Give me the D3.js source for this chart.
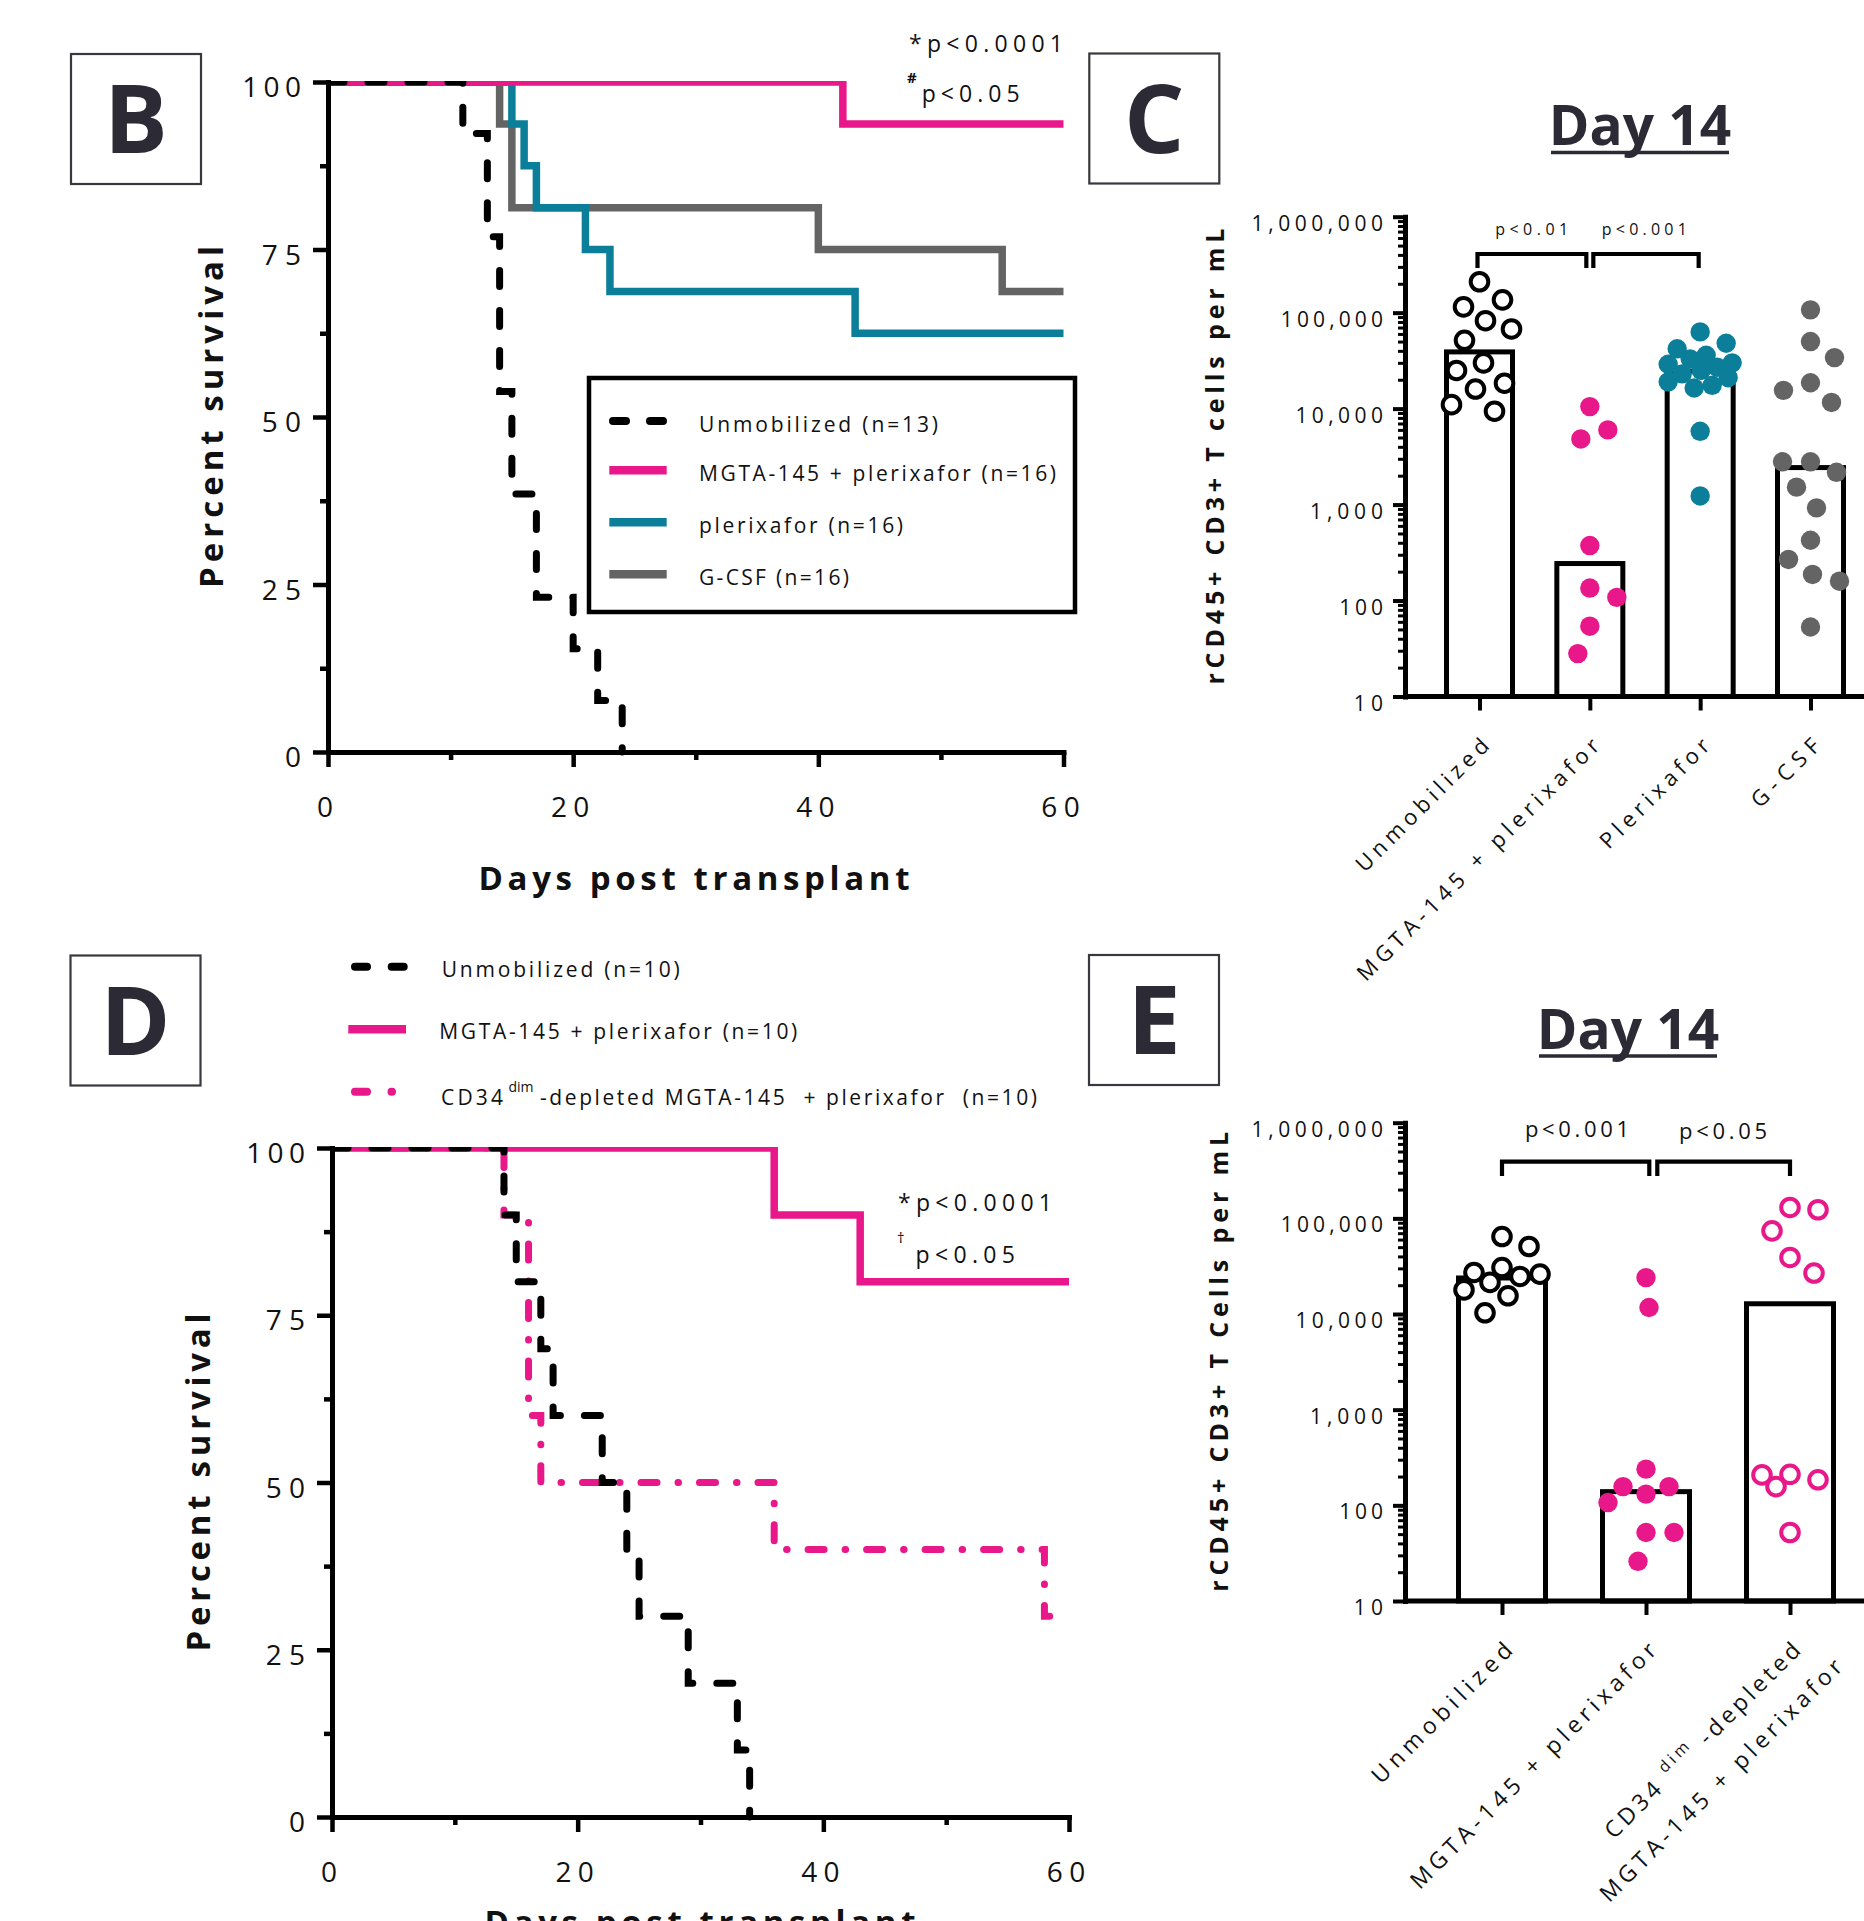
<!DOCTYPE html>
<html><head><meta charset="utf-8">
<script src="https://cdn.jsdelivr.net/npm/d3@7"></script>
<style>
html,body{margin:0;padding:0;background:#fff;}
svg{display:block;}
text{font-family:"Open Sans","Noto Sans",sans-serif;white-space:pre;}
</style></head><body>
<svg id="fig" width="1864" height="1921"></svg>
<script>
// ================= DATA =================
const dayTicks = [0, 20, 40, 60];
const survTicks = [0, 25, 50, 75, 100];

// Panel B (Kaplan-Meier)
const bUnmobDays = [0, 11, 13, 14, 15, 17, 20, 22, 24];
const bUnmobSurv = [100, 92.3, 76.9, 53.8, 38.5, 23.1, 15.4, 7.7, 0];
const bMgtaDays = [0, 42, 60];
const bMgtaSurv = [100, 93.75, 93.75];
const bPlerixDays = [0, 15, 16, 17, 21, 23, 43, 60];
const bPlerixSurv = [100, 93.75, 87.5, 81.25, 75, 68.75, 62.5, 62.5];
const bGcsfDays = [0, 14, 15, 40, 55, 60];
const bGcsfSurv = [100, 93.75, 81.25, 75, 68.75, 68.75];
const bLegend = ["Unmobilized (n=13)", "MGTA-145 + plerixafor (n=16)", "plerixafor (n=16)", "G-CSF (n=16)"];

// Panel D (Kaplan-Meier)
const dUnmobDays = [0, 14, 15, 17, 18, 22, 24, 25, 29, 33, 34];
const dUnmobSurv = [100, 90, 80, 70, 60, 50, 40, 30, 20, 10, 0];
const dMgtaDays = [0, 36, 43, 60];
const dMgtaSurv = [100, 90, 80, 80];
const dCd34Days = [0, 14, 16, 17, 36, 58, 60];
const dCd34Surv = [100, 90, 60, 50, 40, 30, 30];
const dLegend = ["Unmobilized (n=10)", "MGTA-145 + plerixafor (n=10)", "-depleted MGTA-145  + plerixafor  (n=10)"];

// Panel C (Day 14, log scale)
const logTicks = [10, 100, 1000, 10000, 100000, 1000000];
const cCategories = ["Unmobilized", "MGTA-145 + plerixafor", "Plerixafor", "G-CSF"];
const cBars = [39000, 243, 24600, 2430];
const cUnmob = [210000, 136000, 115000, 82500, 67600, 51500, 30000, 25000, 18400, 16000, 11000, 9400];
const cMgta = [10500, 6000, 4830, 374, 135, 108, 54, 28];
const cPlerix = [63000, 48000, 42000, 36000, 33000, 30000, 29000, 27000, 25000, 23000, 21000, 19000, 17500, 16400, 5800, 1230];
const cGcsf = [107000, 50000, 34000, 18600, 15500, 11600, 2790, 2790, 2170, 1520, 925, 425, 268, 187, 159, 53];
const cPvals = ["p<0.01", "p<0.001"];

// Panel E (Day 14, log scale)
const eCategories = ["Unmobilized", "MGTA-145 + plerixafor", "CD34dim-depleted MGTA-145 + plerixafor"];
const eBars = [23800, 139, 12800];
const eUnmob = [64600, 50800, 30600, 27200, 26100, 24700, 21400, 17900, 15500, 10300];
const eMgta = [24000, 11700, 239, 157, 157, 131, 107, 52, 52, 26];
const eCd34 = [130000, 123000, 74000, 39000, 26800, 211, 208, 185, 157, 52];
const ePvals = ["p<0.001", "p<0.05"];

// ================= STYLE =================
const PINK = "#E8178A", TEAL = "#0B7F99", GRAY = "#646464", INK = "#2B2A35", BLACK = "#000";

const svg = d3.select("#fig");
svg.append("rect").attr("width", 1864).attr("height", 1921).attr("fill", "#fff");

function addText(g, o) {
  const t = g.append("text")
    .attr("x", o.x).attr("y", o.y)
    .attr("font-size", o.size)
    .attr("font-weight", o.weight || 400)
    .attr("text-anchor", o.anchor || "start")
    .attr("fill", o.fill || "#111");
  if (o.s != null) t.text(o.s);
  if (o.family) t.attr("font-family", o.family);
  if (o.len) t.attr("textLength", o.len).attr("lengthAdjust", "spacing");
  if (o.rot != null) t.attr("transform", `rotate(${o.rot},${o.x},${o.y})`);
  return t;
}

function panelBox(x, y, w, h, letter) {
  svg.append("rect").attr("x", x).attr("y", y).attr("width", w).attr("height", h)
    .attr("fill", "none").attr("stroke", "#38383f").attr("stroke-width", 2.2);
  addText(svg, {s: letter, x: x + w / 2, y: y + h / 2 + 34, size: 95, weight: 700,
    anchor: "middle", family: "Lato", fill: INK});
}

// ================= SURVIVAL PANELS =================
function survivalAxes(x, y, opt) {
  const g = svg.append("g");
  g.append("g").attr("transform", `translate(${x(0)},0)`)
    .call(d3.axisLeft(y).tickValues(survTicks).tickSize(15).tickSizeOuter(0).tickFormat(""));
  const yMin = g.append("g").attr("transform", `translate(${x(0)},0)`)
    .call(d3.axisLeft(y).tickValues([12.5, 37.5, 62.5, 87.5]).tickSize(8).tickSizeOuter(0).tickFormat(""));
  yMin.select(".domain").remove();
  g.append("g").attr("transform", `translate(0,${y(0)})`)
    .call(d3.axisBottom(x).tickValues(dayTicks).tickSize(15).tickSizeOuter(0).tickFormat(""));
  const xMin = g.append("g").attr("transform", `translate(0,${y(0)})`)
    .call(d3.axisBottom(x).tickValues([10, 30, 50]).tickSize(8).tickSizeOuter(0).tickFormat(""));
  xMin.select(".domain").remove();
  g.selectAll(".tick text").remove();
  g.selectAll(".domain").attr("stroke", BLACK).attr("stroke-width", 5).attr("stroke-linecap", "square");
  g.selectAll(".tick line").attr("stroke", BLACK).attr("stroke-width", 4.5);
  survTicks.forEach(v => {
    const s = String(v);
    addText(g, {s, x: x(0) - 27, y: y(v) + 15, size: 28, anchor: "end", len: s.length > 1 ? 19.6 * s.length : null});
  });
  dayTicks.forEach(v => {
    const s = String(v);
    addText(g, {s, x: x(v) - 3, y: y(0) + 65, size: 28, anchor: "middle", len: s.length > 1 ? 19.2 * s.length : null});
  });
  addText(g, {s: "Percent survival", x: opt.ylabX, y: (y(0) + y(100)) / 2, size: 33, weight: 700,
    anchor: "middle", rot: -90, len: opt.ylabLen});
  addText(g, {s: "Days post transplant", x: opt.xlabX, y: opt.xlabY, size: 33, weight: 700,
    anchor: "middle", len: 431});
}

function survivalLines(x, y, series, clipId) {
  svg.append("clipPath").attr("id", clipId).append("rect")
    .attr("x", x(0)).attr("y", y(100) - 1).attr("width", x(60) - x(0) + 12).attr("height", y(0) - y(100) + 8);
  const line = d3.line().x(d => x(d[0])).y(d => y(d[1])).curve(d3.curveStepAfter);
  const g = svg.append("g").attr("clip-path", `url(#${clipId})`);
  series.forEach(s => {
    g.append("path").datum(d3.zip(s.days, s.surv)).attr("d", line)
      .attr("fill", "none").attr("stroke", s.color).attr("stroke-width", s.width || 7.5)
      .attr("stroke-linecap", s.dash ? "round" : "butt")
      .attr("stroke-linejoin", "miter")
      .attr("stroke-dasharray", s.dash || null);
  });
}

// ----- Panel B -----
panelBox(71, 54, 130, 130, "B");
const xB = d3.scaleLinear().domain([0, 60]).range([328, 1063.5]);
const yB = d3.scaleLinear().domain([0, 100]).range([752, 82]);
survivalLines(xB, yB, [
  {days: bGcsfDays, surv: bGcsfSurv, color: GRAY},
  {days: bPlerixDays, surv: bPlerixSurv, color: TEAL},
  {days: bMgtaDays, surv: bMgtaSurv, color: PINK},
  {days: bUnmobDays, surv: bUnmobSurv, color: BLACK, dash: "16,24", width: 7}
], "clipB");
survivalAxes(xB, yB, {ylabX: 223, ylabLen: 342, xlabX: 694, xlabY: 890});

// p-values B
{
  const t = addText(svg, {x: 909, y: 51.7, size: 23, len: 154});
  t.append("tspan").text("*");
  t.append("tspan").text("p<0.0001");
  addText(svg, {s: "#", x: 907, y: 83, size: 15, weight: 700});
  addText(svg, {s: "p<0.05", x: 921.7, y: 101.7, size: 23, len: 98});
}

// Legend B
{
  const g = svg.append("g");
  g.append("rect").attr("x", 589).attr("y", 378).attr("width", 486).attr("height", 234)
    .attr("fill", "#fff").attr("stroke", BLACK).attr("stroke-width", 4.5);
  const rows = [421, 470.3, 522.3, 574.3];
  const cols = [BLACK, PINK, TEAL, GRAY];
  const lens = [239, 357, 204, 150];
  bLegend.forEach((lab, i) => {
    if (i === 0) {
      g.append("path").attr("d", `M613,${rows[i]}H663`).attr("stroke", BLACK).attr("stroke-width", 8)
        .attr("stroke-linecap", "round").attr("stroke-dasharray", "13,24");
    } else {
      g.append("line").attr("x1", 609.3).attr("x2", 666.7).attr("y1", rows[i]).attr("y2", rows[i])
        .attr("stroke", cols[i]).attr("stroke-width", 8.5);
    }
    addText(g, {s: lab, x: 699, y: rows[i] + 10.5, size: 21, len: lens[i]});
  });
}

// ----- Panel D -----
panelBox(70.5, 955.5, 130, 130, "D");
const xD = d3.scaleLinear().domain([0, 60]).range([332, 1069]);
const yD = d3.scaleLinear().domain([0, 100]).range([1817, 1148]);
survivalLines(xD, yD, [
  {days: dCd34Days, surv: dCd34Surv, color: PINK, dash: "16,21,0.5,21", width: 7},
  {days: dMgtaDays, surv: dMgtaSurv, color: PINK},
  {days: dUnmobDays, surv: dUnmobSurv, color: BLACK, dash: "16,24", width: 7}
], "clipD");
survivalAxes(xD, yD, {ylabX: 210, ylabLen: 338, xlabX: 700, xlabY: 1934});

// p-values D
{
  const t = addText(svg, {x: 898, y: 1211, size: 23, len: 154});
  t.append("tspan").text("*");
  t.append("tspan").text("p<0.0001");
  addText(svg, {s: "†", x: 897, y: 1243, size: 15});
  addText(svg, {s: "p<0.05", x: 915.5, y: 1262.6, size: 23, len: 99.5});
}

// Legend D
{
  const g = svg.append("g");
  const rows = [966.7, 1029.3, 1091.7];
  g.append("path").attr("d", `M355,${rows[0]}H404`).attr("stroke", BLACK).attr("stroke-width", 8)
    .attr("stroke-linecap", "round").attr("stroke-dasharray", "12,24.7");
  g.append("line").attr("x1", 348.3).attr("x2", 406).attr("y1", rows[1]).attr("y2", rows[1])
    .attr("stroke", PINK).attr("stroke-width", 8.5);
  g.append("path").attr("d", `M355,${rows[2]}H393`).attr("stroke", PINK).attr("stroke-width", 8)
    .attr("stroke-linecap", "round").attr("stroke-dasharray", "12,24.5,0.5,50");
  addText(g, {s: dLegend[0], x: 441.7, y: 976.7, size: 21, len: 238});
  addText(g, {s: dLegend[1], x: 439.3, y: 1039.3, size: 21, len: 358});
  const t = addText(g, {x: 441, y: 1105, size: 21});
  t.append("tspan").attr("x", 441).attr("textLength", 62).attr("lengthAdjust", "spacing").text("CD34");
  t.append("tspan").attr("x", 508.5).attr("dy", -13).attr("font-size", 14).text("dim");
  t.append("tspan").attr("x", 540).attr("dy", 13).attr("textLength", 497).attr("lengthAdjust", "spacing").text(dLegend[2]);
}

// ================= BAR + SCATTER PANELS =================
// simple deterministic swarm: places points at the smallest horizontal offset that avoids
// an elliptical exclusion zone around already-placed points
function swarm(vals, yScale, r, maxOff) {
  const pts = vals.map((v, i) => ({v, y: yScale(v), i})).sort((a, b) => a.y - b.y);
  const placed = [];
  const ax = 2 * r * 1.38, ay = 2 * r * 1.5;
  const dist = (q, c, p) => Math.hypot((q.dx - c) / ax, (q.y - p.y) / ay);
  let pref = 1;
  pts.forEach(p => {
    const cands = [0];
    for (let k = 1; k <= maxOff; k++) cands.push(k * pref, -k * pref);
    let found = null;
    for (const c of cands) {
      if (placed.every(q => dist(q, c, p) >= 1)) { found = c; break; }
    }
    if (found === null) {
      let best = 0, bestD = -1;
      for (const c of cands) {
        const d = d3.min(placed, q => dist(q, c, p));
        if (d > bestD + 0.002) { bestD = d; best = c; }
      }
      found = best;
    }
    if (found !== 0) pref = found > 0 ? -1 : 1;
    p.dx = found;
    placed.push(p);
  });
  return pts;
}

function barPanel(o) {
  const {x, y, axisX, axisY} = o;
  const g = svg.append("g");
  // bars
  o.cats.forEach((c, i) => {
    g.append("rect").attr("x", x(c) - o.barW / 2).attr("y", y(o.bars[i]))
      .attr("width", o.barW).attr("height", axisY - y(o.bars[i]))
      .attr("fill", "#fff").attr("stroke", BLACK).attr("stroke-width", 5);
  });
  // y axis
  const logMinor = [];
  for (let e = 1; e < 6; e++) for (let k = 2; k <= 9; k++) logMinor.push(k * Math.pow(10, e));
  const ya = g.append("g").attr("transform", `translate(${axisX},0)`)
    .call(d3.axisLeft(y).tickValues(logTicks).tickSize(12).tickSizeOuter(0).tickFormat(""));
  const ym = g.append("g").attr("transform", `translate(${axisX},0)`)
    .call(d3.axisLeft(y).tickValues(logMinor).tickSize(7).tickSizeOuter(0).tickFormat(""));
  ym.select(".domain").remove();
  ym.selectAll(".tick line").attr("stroke-width", 3);
  ya.selectAll(".tick line").attr("stroke-width", 4);
  ya.select(".domain").attr("stroke-width", 5).attr("stroke-linecap", "square");
  // x axis
  const xa = g.append("g").attr("transform", `translate(0,${axisY})`)
    .call(d3.axisBottom(x).tickSize(14).tickSizeOuter(0).tickFormat(""));
  xa.select(".domain").remove();
  xa.selectAll(".tick line").attr("stroke-width", 4);
  g.append("line").attr("x1", axisX).attr("x2", 1866).attr("y1", axisY).attr("y2", axisY)
    .attr("stroke", BLACK).attr("stroke-width", 5);
  g.selectAll(".tick text").remove();
  g.selectAll(".tick line, .domain").attr("stroke", BLACK);
  // y tick labels
  const fmt = d3.format(",");
  logTicks.forEach(v => {
    const s = fmt(v);
    addText(g, {s, x: axisX - 22, y: y(v) + 14, size: 21, anchor: "end", len: 14.6 * s.length});
  });
  // points
  o.groups.forEach((grp, i) => {
    const cx = x(o.cats[i]);
    const r = grp.open ? 8.8 : 9.7;
    const pts = swarm(grp.vals, y, 10, o.maxOff);
    g.selectAll(null).data(pts).enter().append("circle")
      .attr("cx", d => cx + d.dx).attr("cy", d => d.y).attr("r", r)
      .attr("fill", grp.open ? "#fff" : grp.color)
      .attr("stroke", grp.open ? grp.color : "none")
      .attr("stroke-width", grp.open ? 4 : 0);
  });
  // brackets
  o.brackets.forEach(b => {
    g.append("path").attr("d", `M${b.x1},${b.leg}V${b.top}H${b.x2}V${b.leg}`)
      .attr("fill", "none").attr("stroke", BLACK).attr("stroke-width", 4.2);
    addText(g, {s: b.label, x: b.tx, y: b.ty, size: b.size, anchor: "middle", len: b.len});
  });
  // y label
  addText(g, {s: o.ylab, x: o.ylabX, y: (y(10) + y(1e6)) / 2, size: 25, weight: 700, anchor: "middle",
    rot: -90, len: o.ylabLen});
  // title
  addText(g, {s: "Day 14", x: o.titleX, y: o.titleY, size: 55, weight: 700, anchor: "middle",
    family: "Lato", fill: INK});
  g.append("line").attr("x1", o.titleX - 89).attr("x2", o.titleX + 89)
    .attr("y1", o.titleY + 7.5).attr("y2", o.titleY + 7.5).attr("stroke", INK).attr("stroke-width", 3.6);
  return g;
}

// ----- Panel C -----
panelBox(1089.3, 53.5, 130, 130, "C");
const xC = d3.scalePoint().domain(cCategories).range([1479.5, 1810.5]);
const yC = d3.scaleLog().domain([10, 1e6]).range([696.5, 216.7]);
const gC = barPanel({
  x: xC, y: yC, axisX: 1405, axisY: 696.5, cats: cCategories, bars: cBars, barW: 66, maxOff: 32,
  groups: [
    {vals: cUnmob, color: BLACK, open: true},
    {vals: cMgta, color: PINK},
    {vals: cPlerix, color: TEAL},
    {vals: cGcsf, color: GRAY}
  ],
  brackets: [
    {x1: xC(cCategories[0]) - 2, x2: xC(cCategories[1]) - 3.5, top: 254, leg: 268, label: cPvals[0], tx: 1531.7, ty: 235, size: 16, len: 73},
    {x1: xC(cCategories[1]) + 3.5, x2: xC(cCategories[2]) - 1.5, top: 254, leg: 268, label: cPvals[1], tx: 1644.3, ty: 235, size: 16, len: 85}
  ],
  ylab: "rCD45+ CD3+ T cells per mL", ylabX: 1224, ylabLen: 456,
  titleX: 1640, titleY: 145
});
{
  const lens = [178, 332, 145, 87];
  cCategories.forEach((c, i) => {
    const ax = xC(c) + 11, ay = 696.5 + 51;
    addText(gC, {s: c, x: ax, y: ay, size: 22, anchor: "end", rot: -45, len: lens[i]});
  });
}

// ----- Panel E -----
panelBox(1089, 955, 130, 130, "E");
const xE = d3.scalePoint().domain(eCategories).range([1502, 1790]);
const yE = d3.scaleLog().domain([10, 1e6]).range([1601, 1122.7]);
const gE = barPanel({
  x: xE, y: yE, axisX: 1405, axisY: 1601, cats: eCategories, bars: eBars, barW: 87, maxOff: 38,
  groups: [
    {vals: eUnmob, color: BLACK, open: true},
    {vals: eMgta, color: PINK},
    {vals: eCd34, color: PINK, open: true}
  ],
  brackets: [
    {x1: xE(eCategories[0]), x2: xE(eCategories[1]) + 3.3, top: 1161.7, leg: 1176, label: ePvals[0], tx: 1577, ty: 1137, size: 22, len: 104},
    {x1: xE(eCategories[1]) + 11.3, x2: xE(eCategories[2]), top: 1161.7, leg: 1176, label: ePvals[1], tx: 1723, ty: 1139, size: 22, len: 88}
  ],
  ylab: "rCD45+ CD3+ T Cells per mL", ylabX: 1228, ylabLen: 460,
  titleX: 1628, titleY: 1048.5
});
{
  const ay = 1601 + 51;
  addText(gE, {s: eCategories[0], x: xE(eCategories[0]) + 12, y: ay, size: 23, anchor: "end", rot: -45, len: 188});
  addText(gE, {s: eCategories[1], x: xE(eCategories[1]) + 12, y: ay, size: 23, anchor: "end", rot: -45, len: 337});
  // two-line third label with superscript
  const c3 = xE(eCategories[2]) + 12;
  const t = addText(gE, {x: c3, y: ay, size: 23, anchor: "end", rot: -45, len: 266});
  t.append("tspan").text("CD34 ");
  t.append("tspan").attr("font-size", 16).attr("dy", -11).text("dim");
  t.append("tspan").attr("dy", 11).text(" -depleted");
  addText(gE, {s: "MGTA-145 + plerixafor", x: c3 + 42, y: ay + 16.6, size: 23, anchor: "end", rot: -45, len: 332});
}
</script></body></html>
